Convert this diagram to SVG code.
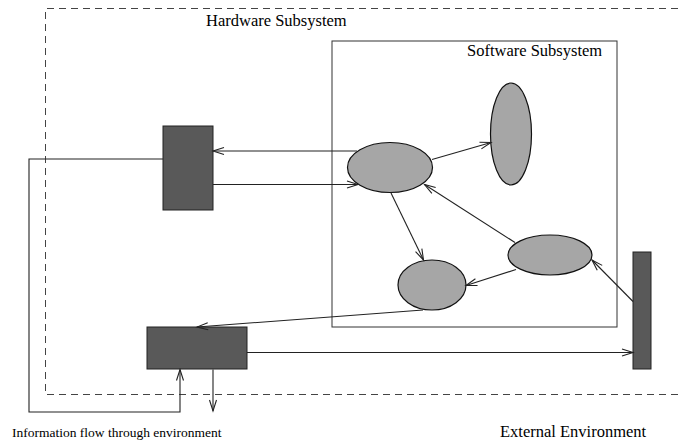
<svg xmlns="http://www.w3.org/2000/svg" width="678" height="445" viewBox="0 0 678 445">
<style>
.lbl{font-family:"Liberation Serif","Times New Roman",serif;fill:#000}
.big{font-size:16.5px}
.small{font-size:13.5px}
.box{fill:#595959;stroke:#222;stroke-width:1}
.ell{fill:#a6a6a6;stroke:#111;stroke-width:1.2}
.con{fill:none;stroke:#222;stroke-width:1.1}
.dash{fill:none;stroke:#444;stroke-width:1;stroke-dasharray:7 5}
</style>
<defs>
<marker id="arr" markerUnits="userSpaceOnUse" markerWidth="14" markerHeight="10" viewBox="-12 -5 14 10" refX="0" refY="0" orient="auto">
<polyline points="-11,-3.5 0,0 -11,3.5" fill="none" stroke="#222" stroke-width="1.1"/>
</marker>
</defs>
<rect width="678" height="445" fill="#fff"/>
<g id="hardware-subsystem">
<path class="dash" d="M678,8.5 H45.5 V394.5 H678"/>
<text class="lbl big" x="206" y="26">Hardware Subsystem</text>
</g>
<g id="software-subsystem">
<rect x="332" y="41" width="285" height="286" fill="none" stroke="#333" stroke-width="1"/>
<text class="lbl big" x="467" y="56">Software Subsystem</text>
</g>
<g id="hw-unit-top"><rect class="box" x="163" y="126" width="50" height="84"/></g>
<g id="hw-unit-bottom"><rect class="box" x="147" y="327" width="100" height="42"/></g>
<g id="ext-device"><rect class="box" x="633" y="252" width="18" height="117"/></g>
<g id="proc-main"><ellipse class="ell" cx="390" cy="167.5" rx="42.5" ry="25"/></g>
<g id="proc-tall"><ellipse class="ell" cx="511" cy="134" rx="20.5" ry="51"/></g>
<g id="proc-lower"><ellipse class="ell" cx="432" cy="285" rx="34" ry="25"/></g>
<g id="proc-right"><ellipse class="ell" cx="550" cy="255" rx="42" ry="20"/></g>
<g id="connectors">
<line class="con" x1="357" y1="151" x2="213" y2="151" marker-end="url(#arr)"/>
<line class="con" x1="213" y1="184.5" x2="358" y2="184.5" marker-end="url(#arr)"/>
<line class="con" x1="432" y1="159.5" x2="491" y2="142.5" marker-end="url(#arr)"/>
<line class="con" x1="515" y1="242.5" x2="424.5" y2="184.5" marker-end="url(#arr)"/>
<line class="con" x1="391" y1="193" x2="423.5" y2="260" marker-end="url(#arr)"/>
<line class="con" x1="516" y1="269.5" x2="466" y2="285.5" marker-end="url(#arr)"/>
<line class="con" x1="423" y1="310" x2="197" y2="327" marker-end="url(#arr)"/>
<line class="con" x1="633" y1="301.5" x2="592" y2="260" marker-end="url(#arr)"/>
<line class="con" x1="247" y1="352.5" x2="633" y2="352.5" marker-end="url(#arr)"/>
<polyline class="con" points="163,159 29,159 29,412 180,412 180,369.5" marker-end="url(#arr)"/>
<line class="con" x1="213" y1="369.5" x2="213" y2="411" marker-end="url(#arr)"/>
</g>
<text class="lbl small" x="12" y="437">Information flow through environment</text>
<text class="lbl big" x="500" y="437">External Environment</text>
</svg>
